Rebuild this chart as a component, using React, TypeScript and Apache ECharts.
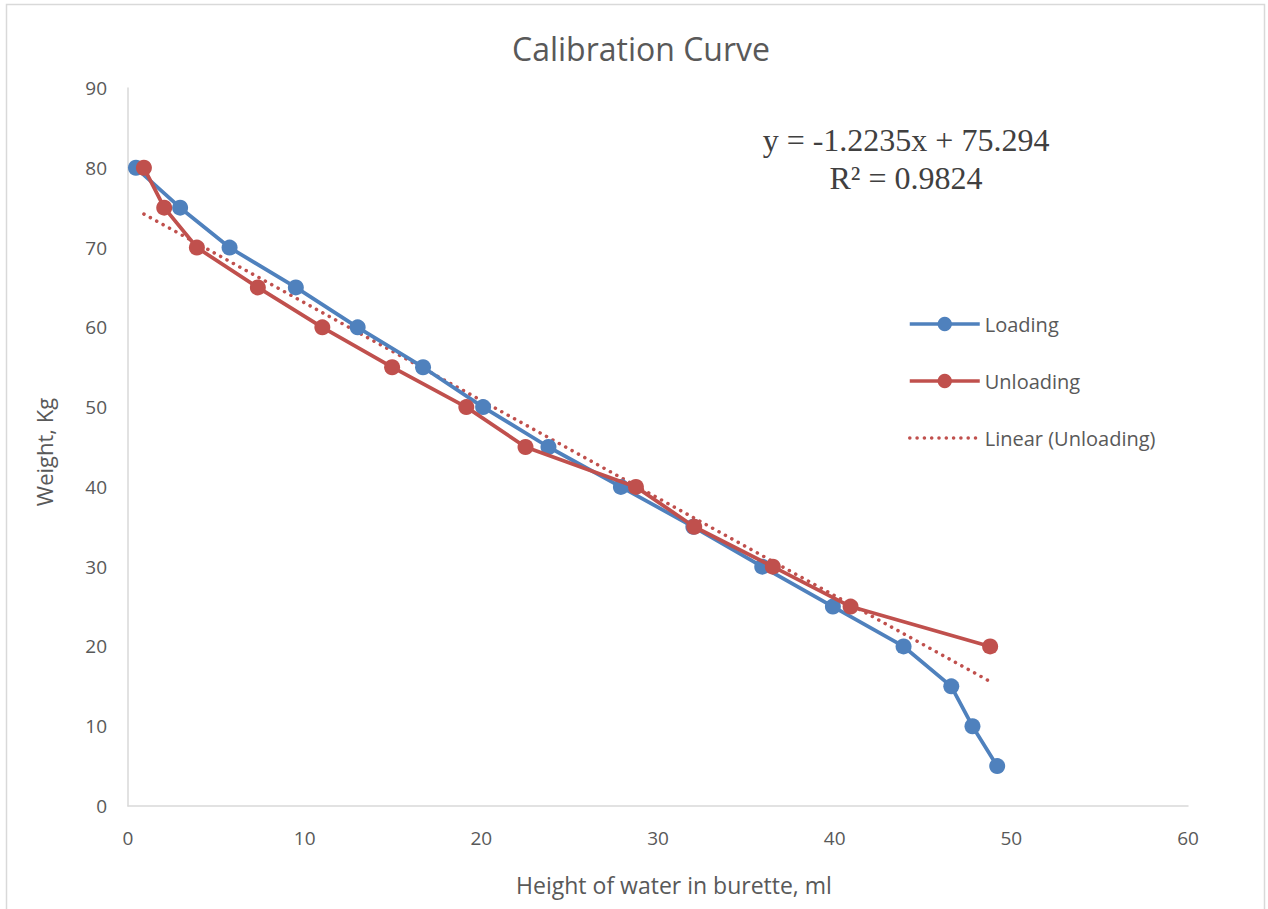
import React, { useEffect, useRef } from "react";
import * as echarts from "echarts";

const loadingX = [0.45, 2.95, 5.75, 9.5, 13.0, 16.7, 20.1, 23.8, 27.9, 32.0, 35.9, 39.9, 43.9, 46.6, 47.8, 49.2];
const loadingY = [80, 75, 70, 65, 60, 55, 50, 45, 40, 35, 30, 25, 20, 15, 10, 5];
const unloadingX = [0.9, 2.05, 3.9, 7.35, 11.0, 14.95, 19.15, 22.5, 28.75, 32.05, 36.5, 40.9, 48.8];
const unloadingY = [80, 75, 70, 65, 60, 55, 50, 45, 40, 35, 30, 25, 20];
const trendX = [0.9, 48.8];
const trendY = [74.2, 15.6];
const equationLines = ["y = -1.2235x + 75.294", "R² = 0.9824"];

const BLUE = "#4F81BD";
const RED = "#C0504D";
const TEXT = "#595959";
const FONT = "'Open Sans', 'Noto Sans', sans-serif";

export default function App() {
  const ref = useRef<HTMLDivElement>(null);
  useEffect(() => {
    document.body.style.margin = "0";
    const chart = echarts.init(ref.current!, null, { renderer: "svg" });
    const zip = (xs: number[], ys: number[]) => xs.map((x, i) => [x, ys[i]]);
    const trendDash = [0.1, 7.2];
    chart.setOption({
      animation: false,
      backgroundColor: "#ffffff",
      title: {
        text: "Calibration Curve",
        left: 636,
        top: 27,
        textAlign: "center",
        textStyle: { fontFamily: FONT, fontSize: 32, fontWeight: "normal", color: TEXT },
      },
      grid: { left: 128, right: 80, top: 88, bottom: 103 },
      xAxis: {
        type: "value",
        min: 0,
        max: 60,
        interval: 10,
        axisLine: { show: true, lineStyle: { color: "#d9d9d9", width: 1.5 } },
        axisTick: { show: false },
        splitLine: { show: false },
        axisLabel: { color: TEXT, fontFamily: FONT, fontSize: 19, margin: 22 },
      },
      yAxis: {
        type: "value",
        min: 0,
        max: 90,
        interval: 10,
        axisLine: { show: true, lineStyle: { color: "#d9d9d9", width: 1.5 } },
        axisTick: { show: false },
        splitLine: { show: false },
        axisLabel: { color: TEXT, fontFamily: FONT, fontSize: 19, margin: 21 },
      },
      legend: {
        orient: "vertical",
        left: 903,
        top: 309,
        itemWidth: 70,
        itemHeight: 18,
        itemGap: 37,
        textStyle: { color: TEXT, fontFamily: FONT, fontSize: 20 },
        data: [
          { name: "Loading", lineStyle: { width: 3.5 } },
          { name: "Unloading", lineStyle: { width: 3.5 } },
          {
            name: "Linear (Unloading)",
            itemStyle: { opacity: 0 },
            lineStyle: { width: 3.5, type: trendDash, cap: "round" },
          },
        ],
      },
      series: [
        {
          name: "Linear (Unloading)",
          type: "line",
          data: zip(trendX, trendY),
          showSymbol: false,
          symbol: "none",
          lineStyle: { color: RED, width: 3.5, type: trendDash, cap: "round" },
          itemStyle: { color: RED },
          z: 1,
        },
        {
          name: "Loading",
          type: "line",
          data: zip(loadingX, loadingY),
          symbol: "circle",
          symbolSize: 16,
          lineStyle: { color: BLUE, width: 3.75 },
          itemStyle: { color: BLUE },
          z: 2,
        },
        {
          name: "Unloading",
          type: "line",
          data: zip(unloadingX, unloadingY),
          symbol: "circle",
          symbolSize: 16,
          lineStyle: { color: RED, width: 3.75 },
          itemStyle: { color: RED },
          z: 3,
        },
      ],
      graphic: [
        {
          type: "rect",
          shape: { x: 6.5, y: 4.5, width: 1258, height: 930 },
          style: { fill: "none", stroke: "#d9d9d9", lineWidth: 1.5 },
          silent: true,
        },
        {
          type: "text",
          x: 906,
          y: 159,
          style: {
            text: equationLines.join("\n"),
            fontFamily: "'Liberation Serif', 'DejaVu Serif', serif",
            fontSize: 32,
            lineHeight: 38,
            fill: "#404040",
            align: "center",
            verticalAlign: "middle",
          },
        },
        {
          type: "text",
          x: 674,
          y: 885,
          style: {
            text: "Height of water in burette, ml",
            fontFamily: FONT,
            fontSize: 23,
            fill: TEXT,
            align: "center",
            verticalAlign: "middle",
          },
        },
        {
          type: "text",
          x: 44,
          y: 452,
          rotation: Math.PI / 2,
          style: {
            text: "Weight, Kg",
            fontFamily: FONT,
            fontSize: 22,
            fill: TEXT,
            align: "center",
            verticalAlign: "middle",
          },
        },
      ],
    });
    return () => chart.dispose();
  }, []);
  return <div ref={ref} style={{ width: 1268, height: 909 }} />;
}
